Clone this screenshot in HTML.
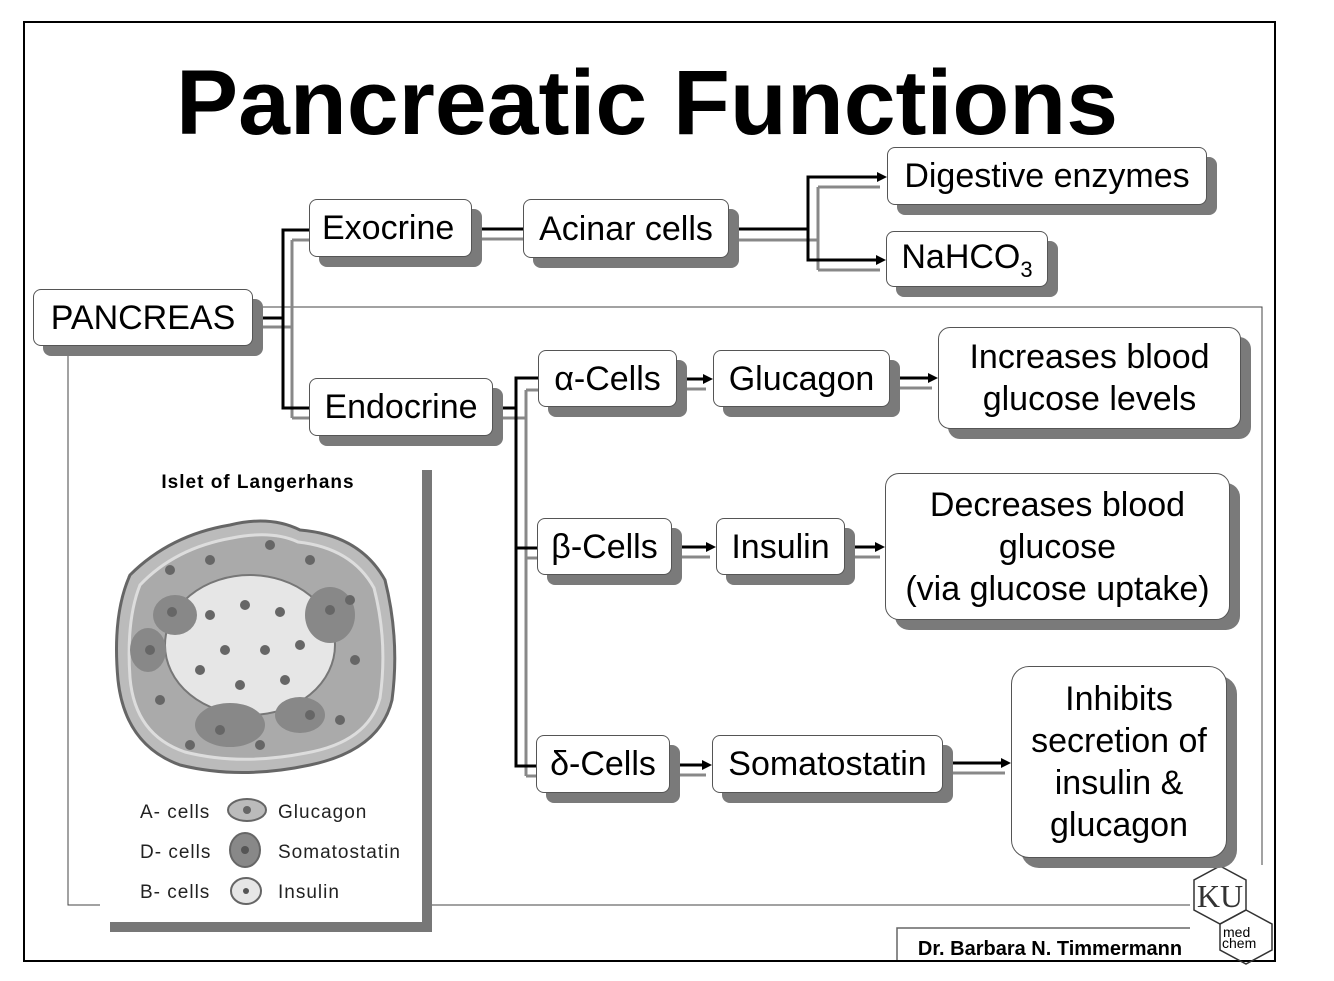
<!DOCTYPE html>
<html><head><meta charset="utf-8"><style>
body{margin:0;background:#fff;}
#c{position:relative;width:1334px;height:981px;overflow:hidden;font-family:"Liberation Sans",sans-serif;}
.b{position:absolute;background:#fff;border:1.5px solid #555;border-radius:8px;box-sizing:border-box;display:flex;align-items:center;justify-content:center;text-align:center;font-size:34px;line-height:42px;color:#000;box-shadow:10px 10px 0 #7a7a7a;white-space:nowrap;}
.sb{font-size:22px;position:relative;top:9px;}
</style></head><body><div id="c">
<svg width="1334" height="981" style="position:absolute;left:0;top:0">
<rect x="24" y="22" width="1251" height="939" fill="none" stroke="#000" stroke-width="2"/>
<polyline points="68,346 68,905 1262,905 1262,307 263,307" fill="none" stroke="#444" stroke-width="1"/>
<text x="176" y="134" font-family="Liberation Sans" font-weight="bold" font-size="92" textLength="942" lengthAdjust="spacingAndGlyphs">Pancreatic Functions</text>
<g fill="none" stroke="#888" stroke-width="3">
<polyline points="263,327 292,327"/><polyline points="292,240 292,418"/><line x1="292" y1="240" x2="309" y2="240"/><line x1="292" y1="418" x2="309" y2="418"/>
<line x1="482" y1="239" x2="523" y2="239"/>
<polyline points="739,240 818,240"/><polyline points="818,187 818,270"/><line x1="818" y1="187" x2="880" y2="187"/><line x1="818" y1="270" x2="880" y2="270"/>
<line x1="503" y1="418" x2="526" y2="418"/><polyline points="526,390 526,776"/><line x1="526" y1="390" x2="538" y2="390"/><line x1="526" y1="558" x2="537" y2="558"/><line x1="526" y1="776" x2="536" y2="776"/>
<line x1="687" y1="389" x2="706" y2="389"/><line x1="900" y1="388" x2="932" y2="388"/>
<line x1="682" y1="557" x2="710" y2="557"/><line x1="855" y1="557" x2="880" y2="557"/>
<line x1="680" y1="775" x2="706" y2="775"/><line x1="953" y1="773" x2="1005" y2="773"/>
</g>
<g fill="none" stroke="#000" stroke-width="3">
<line x1="253" y1="318" x2="283" y2="318"/><polyline points="309,230 283,230 283,408 309,408"/>
<line x1="472" y1="229" x2="523" y2="229"/>
<polyline points="729,229 808,229"/><polyline points="878,177 808,177 808,260 878,260"/>
<line x1="493" y1="408" x2="516" y2="408"/><polyline points="538,378 516,378 516,766 536,766"/><line x1="516" y1="548" x2="537" y2="548"/>
<line x1="677" y1="379" x2="704" y2="379"/><line x1="890" y1="378" x2="930" y2="378"/>
<line x1="672" y1="547" x2="708" y2="547"/><line x1="845" y1="547" x2="877" y2="547"/>
<line x1="670" y1="765" x2="704" y2="765"/><line x1="943" y1="763" x2="1003" y2="763"/>
</g>
<g fill="#000">
<polygon points="887,177 877,172 877,182"/><polygon points="886,260 876,255 876,265"/>
<polygon points="713,379 703,374 703,384"/><polygon points="938,378 928,373 928,383"/>
<polygon points="716,547 706,542 706,552"/><polygon points="885,547 875,542 875,552"/>
<polygon points="712,765 702,760 702,770"/><polygon points="1011,763 1001,758 1001,768"/>
</g>
<rect x="110" y="470" width="322" height="462" fill="#777"/>
<rect x="100" y="460" width="322" height="462" fill="#fff"/>
<text x="258" y="488" text-anchor="middle" font-family="Liberation Sans" font-weight="bold" font-size="19" letter-spacing="1">Islet of Langerhans</text>
<path d="M130,575 Q170,535 230,525 Q270,515 300,530 Q360,535 385,580 Q400,640 392,700 Q380,750 310,765 Q240,780 180,765 Q125,745 118,680 Q112,615 130,575Z" fill="#bbb" stroke="#666" stroke-width="3"/>
<path d="M140,585 Q175,548 232,538 Q272,530 298,542 Q352,548 374,588 Q388,642 380,698 Q368,742 306,753 Q240,766 185,752 Q135,735 130,678 Q126,620 140,585Z" fill="#aaa" stroke="#ddd" stroke-width="3"/>
<ellipse cx="250" cy="645" rx="85" ry="70" fill="#e6e6e6" stroke="#777" stroke-width="2"/>
<ellipse cx="175" cy="615" rx="22" ry="20" fill="#888"/><ellipse cx="330" cy="615" rx="25" ry="28" fill="#888"/><ellipse cx="230" cy="725" rx="35" ry="22" fill="#888"/><ellipse cx="148" cy="650" rx="18" ry="22" fill="#888"/><ellipse cx="300" cy="715" rx="25" ry="18" fill="#888"/>
<g fill="#666">
<circle cx="172" cy="612" r="5"/><circle cx="210" cy="615" r="5"/><circle cx="245" cy="605" r="5"/><circle cx="280" cy="612" r="5"/><circle cx="330" cy="610" r="5"/><circle cx="225" cy="650" r="5"/><circle cx="265" cy="650" r="5"/><circle cx="300" cy="645" r="5"/><circle cx="200" cy="670" r="5"/><circle cx="240" cy="685" r="5"/><circle cx="285" cy="680" r="5"/><circle cx="150" cy="650" r="5"/><circle cx="355" cy="660" r="5"/><circle cx="160" cy="700" r="5"/><circle cx="220" cy="730" r="5"/><circle cx="260" cy="745" r="5"/><circle cx="310" cy="715" r="5"/><circle cx="340" cy="720" r="5"/><circle cx="190" cy="745" r="5"/><circle cx="170" cy="570" r="5"/><circle cx="210" cy="560" r="5"/><circle cx="270" cy="545" r="5"/><circle cx="310" cy="560" r="5"/><circle cx="350" cy="600" r="5"/>
</g>
<g font-family="Liberation Sans" font-size="19" fill="#222" letter-spacing="1">
<text x="140" y="818">A- cells</text><text x="278" y="818">Glucagon</text>
<text x="140" y="858">D- cells</text><text x="278" y="858">Somatostatin</text>
<text x="140" y="898">B- cells</text><text x="278" y="898">Insulin</text>
</g>
<ellipse cx="247" cy="810" rx="19" ry="11" fill="#bbb" stroke="#666" stroke-width="2"/><circle cx="247" cy="810" r="4" fill="#666"/>
<ellipse cx="245" cy="850" rx="15" ry="17" fill="#888" stroke="#666" stroke-width="2"/><circle cx="245" cy="850" r="4" fill="#555"/>
<ellipse cx="246" cy="891" rx="15" ry="13" fill="#e6e6e6" stroke="#666" stroke-width="2"/><circle cx="246" cy="891" r="3" fill="#555"/>
<rect x="897" y="928" width="310" height="33" fill="#fff" stroke="#666" stroke-width="1.5"/>
<line x1="24" y1="961" x2="1275" y2="961" stroke="#000" stroke-width="2"/>
<text x="1050" y="955" text-anchor="middle" font-family="Liberation Sans" font-weight="bold" font-size="20">Dr. Barbara N. Timmermann</text>
<rect x="1190" y="865" width="84" height="95" fill="#fff"/>
<polygon points="1220,866 1246,880 1246,910 1220,924 1194,910 1194,880" fill="none" stroke="#333" stroke-width="1.5"/>
<polygon points="1246,910 1272,924 1272,950 1246,964 1220,950 1220,924" fill="none" stroke="#333" stroke-width="1.5"/>
<text x="1220" y="907" text-anchor="middle" font-family="Liberation Serif" font-size="32" fill="#333">KU</text>
<text x="1223" y="937" font-family="Liberation Sans" font-size="14">med</text>
<text x="1222" y="948" font-family="Liberation Sans" font-size="14">chem</text>
</svg>
<div class="b" style="left:33px;top:289px;width:220px;height:57px">PANCREAS</div>
<div class="b" style="left:309px;top:199px;width:163px;height:58px;justify-content:flex-start;padding-left:12px">Exocrine</div>
<div class="b" style="left:523px;top:199px;width:206px;height:59px">Acinar cells</div>
<div class="b" style="left:887px;top:147px;width:320px;height:58px">Digestive enzymes</div>
<div class="b" style="left:886px;top:231px;width:162px;height:56px"><span>NaHCO<span class="sb">3</span></span></div>
<div class="b" style="left:309px;top:378px;width:184px;height:58px">Endocrine</div>
<div class="b" style="left:538px;top:350px;width:139px;height:57px">α-Cells</div>
<div class="b" style="left:713px;top:350px;width:177px;height:57px">Glucagon</div>
<div class="b" style="left:938px;top:327px;width:303px;height:102px;border-radius:12px">Increases blood<br>glucose levels</div>
<div class="b" style="left:537px;top:518px;width:135px;height:57px">β-Cells</div>
<div class="b" style="left:716px;top:518px;width:129px;height:57px">Insulin</div>
<div class="b" style="left:885px;top:473px;width:345px;height:147px;border-radius:14px">Decreases blood<br>glucose<br>(via glucose uptake)</div>
<div class="b" style="left:536px;top:735px;width:134px;height:58px">δ-Cells</div>
<div class="b" style="left:712px;top:735px;width:231px;height:58px">Somatostatin</div>
<div class="b" style="left:1011px;top:666px;width:216px;height:192px;border-radius:18px">Inhibits<br>secretion of<br>insulin &amp;<br>glucagon</div>
</div></body></html>
